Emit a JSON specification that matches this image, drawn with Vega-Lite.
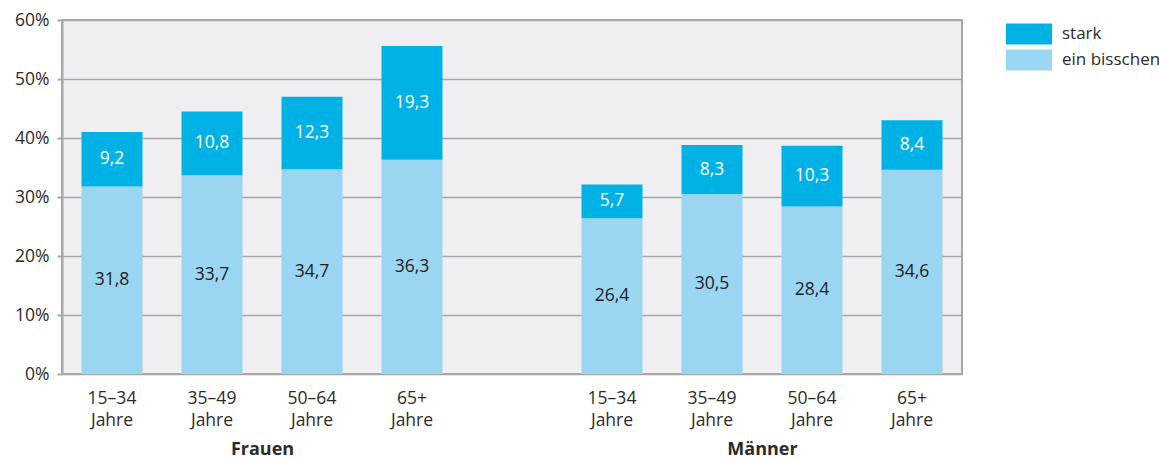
{
  "$schema": "https://vega.github.io/schema/vega-lite/v6.json",
  "width": 900,
  "height": 354,
  "autosize": {"type": "none"},
  "padding": {"left": 62, "top": 20, "right": 197, "bottom": 84},
  "config": {
    "locale": {"number": {"decimal": ",", "thousands": ".", "grouping": [3], "currency": ["", " €"]}},
    "font": "Open Sans",
    "view": {"fill": "#efeff2", "stroke": "#a6a6ab", "strokeWidth": 2},
    "axis": {"labelFont": "Open Sans", "labelColor": "#2b2b2b"},
    "legend": {"labelFont": "Open Sans", "labelColor": "#2b2b2b"}
  },
  "datasets": {
    "bars": [
      {"group": "Frauen", "key": "Frauen 15–34", "typ": "ein bisschen", "value": 31.8},
      {"group": "Frauen", "key": "Frauen 15–34", "typ": "stark", "value": 9.2},
      {"group": "Frauen", "key": "Frauen 35–49", "typ": "ein bisschen", "value": 33.7},
      {"group": "Frauen", "key": "Frauen 35–49", "typ": "stark", "value": 10.8},
      {"group": "Frauen", "key": "Frauen 50–64", "typ": "ein bisschen", "value": 34.7},
      {"group": "Frauen", "key": "Frauen 50–64", "typ": "stark", "value": 12.3},
      {"group": "Frauen", "key": "Frauen 65+", "typ": "ein bisschen", "value": 36.3},
      {"group": "Frauen", "key": "Frauen 65+", "typ": "stark", "value": 19.3},
      {"group": "Männer", "key": "Männer 15–34", "typ": "ein bisschen", "value": 26.4},
      {"group": "Männer", "key": "Männer 15–34", "typ": "stark", "value": 5.7},
      {"group": "Männer", "key": "Männer 35–49", "typ": "ein bisschen", "value": 30.5},
      {"group": "Männer", "key": "Männer 35–49", "typ": "stark", "value": 8.3},
      {"group": "Männer", "key": "Männer 50–64", "typ": "ein bisschen", "value": 28.4},
      {"group": "Männer", "key": "Männer 50–64", "typ": "stark", "value": 10.3},
      {"group": "Männer", "key": "Männer 65+", "typ": "ein bisschen", "value": 34.6},
      {"group": "Männer", "key": "Männer 65+", "typ": "stark", "value": 8.4}
    ],
    "groups": [{"group": "Frauen"}, {"group": "Männer"}]
  },
  "layer": [
    {
      "data": {"name": "bars"},
      "encoding": {
        "x": {
          "field": "key",
          "type": "nominal",
          "scale": {
            "domain": ["Frauen 15–34", "Frauen 35–49", "Frauen 50–64", "Frauen 65+", "gap", "Männer 15–34", "Männer 35–49", "Männer 50–64", "Männer 65+"],
            "paddingInner": 0,
            "paddingOuter": 0
          },
          "axis": {
            "title": null,
            "domain": false,
            "ticks": false,
            "labelAngle": 0,
            "labelFontSize": 17.5,
            "labelLineHeight": 22,
            "labelPadding": 15,
            "labelExpr": "datum.value == 'gap' ? '' : [split(datum.value, ' ')[1], 'Jahre']"
          }
        }
      },
      "layer": [
        {
          "mark": {"type": "bar", "width": {"band": 0.61}},
          "encoding": {
            "y": {
              "field": "value",
              "type": "quantitative",
              "stack": "zero",
              "scale": {"domain": [0, 60], "nice": false},
              "axis": {
                "title": null,
                "values": [0, 10, 20, 30, 40, 50, 60],
                "labelExpr": "datum.value + '%'",
                "labelFontSize": 17.5,
                "labelPadding": 8,
                "grid": true,
                "gridColor": "#a6a6ab",
                "gridWidth": 1.5,
                "domainColor": "#a6a6ab",
                "domainWidth": 2,
                "tickColor": "#a6a6ab",
                "tickWidth": 2,
                "tickSize": 5
              }
            },
            "order": {"field": "typ", "sort": "ascending"},
            "color": {
              "field": "typ",
              "type": "nominal",
              "scale": {"domain": ["stark", "ein bisschen"], "range": ["#00b1e5", "#9ad5f2"]},
              "legend": {
                "title": null,
                "orient": "none",
                "legendX": 956.5,
                "legendY": 3.5,
                "padding": 0,
                "symbolType": "M-2.2,-1H2.2V1H-2.2Z",
                "symbolSize": 441,
                "symbolStrokeWidth": 0,
                "symbolOpacity": 1,
                "labelFontSize": 17,
                "labelOffset": 22.5,
                "rowPadding": 5
              }
            }
          }
        },
        {
          "transform": [
            {"stack": "value", "groupby": ["key"], "sort": [{"field": "typ", "order": "ascending"}], "as": ["v0", "v1"]},
            {"calculate": "(datum.v0 + datum.v1) / 2", "as": "mid"},
            {"filter": "datum.typ == 'ein bisschen'"}
          ],
          "mark": {"type": "text", "baseline": "middle", "fontSize": 17.5, "fill": "#222222"},
          "encoding": {
            "y": {"field": "mid", "type": "quantitative"},
            "text": {"field": "value", "type": "quantitative", "format": ".1f"}
          }
        },
        {
          "transform": [
            {"stack": "value", "groupby": ["key"], "sort": [{"field": "typ", "order": "ascending"}], "as": ["v0", "v1"]},
            {"calculate": "(datum.v0 + datum.v1) / 2", "as": "mid"},
            {"filter": "datum.typ == 'stark'"}
          ],
          "mark": {"type": "text", "baseline": "middle", "fontSize": 17.5, "fill": "#ffffff"},
          "encoding": {
            "y": {"field": "mid", "type": "quantitative"},
            "text": {"field": "value", "type": "quantitative", "format": ".1f"}
          }
        }
      ]
    },
    {
      "data": {"name": "groups"},
      "mark": {"type": "point", "opacity": 0},
      "encoding": {
        "x": {
          "field": "group",
          "type": "nominal",
          "scale": {"type": "point", "domain": ["Frauen", "Männer"], "padding": 0.4},
          "axis": {
            "orient": "bottom",
            "offset": 66,
            "title": null,
            "domain": false,
            "ticks": false,
            "grid": false,
            "labelAngle": 0,
            "labelPadding": 0,
            "labelFontSize": 18,
            "labelFontWeight": "bold"
          }
        }
      }
    }
  ],
  "resolve": {"scale": {"x": "independent"}, "axis": {"x": "independent"}}
}
